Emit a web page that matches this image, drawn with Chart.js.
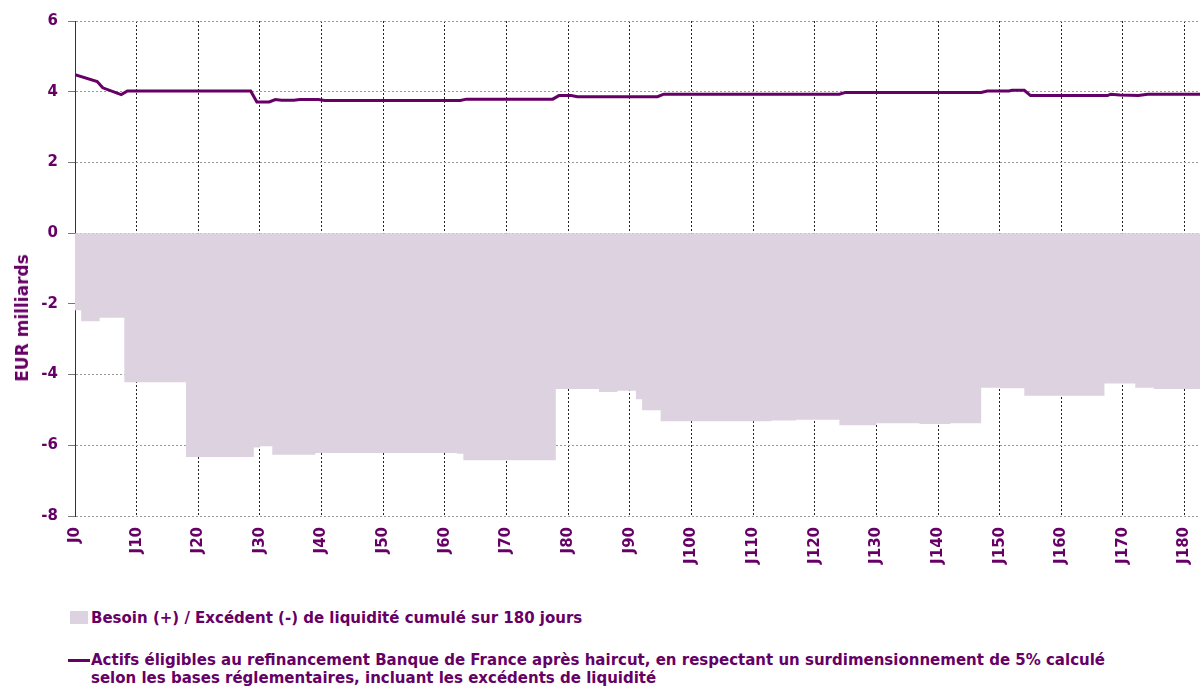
<!DOCTYPE html>
<html>
<head>
<meta charset="utf-8">
<script src="https://cdn.jsdelivr.net/npm/chart.js@4"></script>
<style>
  body { margin: 0; background: #fff; overflow: hidden; }
  #wrap { position: relative; width: 1200px; height: 590px; }
  .ytitle { position: absolute; left: 22px; top: 318px; transform: translate(-50%, -50%) rotate(-90deg);
            white-space: nowrap; font: bold 17px "DejaVu Sans", sans-serif; color: #660066; }
  .legend { position: absolute; left: 0; top: 0; font: bold 15px "DejaVu Sans", sans-serif; color: #660066; }
  .legend .item { position: absolute; white-space: nowrap; left: 91px; line-height: 18px; }
  .legend .box { position: absolute; left: 70px; width: 18px; height: 13px; background: #ddd2e0; }
  .legend .dash { position: absolute; left: 68px; width: 22px; height: 3px; background: #660066; }
</style>
</head>
<body>
<div id="wrap"><canvas id="chart" width="1200" height="590"></canvas></div>
<div class="ytitle">EUR milliards</div>
<div class="legend">
  <div class="box" style="top:611px"></div>
  <div class="item" style="top:609px">Besoin (+) / Excédent (-) de liquidité cumulé sur 180 jours</div>
  <div class="dash" style="top:659px"></div>
  <div class="item" style="top:651px">Actifs éligibles au refinancement Banque de France après haircut, en respectant un surdimensionnement de 5% calculé<br>selon les bases réglementaires, incluant les excédents de liquidité</div>
</div>
<script>
// cumulative liquidity need / surplus (step series), day where each level starts
const areaDays   = [0, 1, 4, 8, 18, 29, 30, 32, 39, 62, 63, 78, 85, 88, 91, 92, 95, 113, 117, 124, 130, 137, 142, 147, 150, 154, 167, 172, 175, 182.5];
const areaValues = [-2.18, -2.49, -2.39, -4.22, -6.33, -6.06, -6.03, -6.27, -6.22, -6.24, -6.42, -4.41, -4.49, -4.46, -4.70, -5.01, -5.32, -5.30, -5.28, -5.43, -5.38, -5.40, -5.38, -4.37, -4.39, -4.60, -4.25, -4.37, -4.41, -4.43];

// eligible assets after haircut
const lineDays   = [0, 3.6, 4.5, 7.5, 8.5, 28.5, 29.5, 31.5, 32.5, 33.5, 35.5, 36.5, 39.5, 40.5, 62.5, 63.5, 77.5, 78.5, 80.5, 81.5, 94.5, 95.5, 124, 125, 147, 148, 151.5, 152, 154, 155, 167.5, 168, 169.5, 172.5, 174, 182.5];
const lineValues = [4.48, 4.29, 4.11, 3.92, 4.02, 4.02, 3.71, 3.71, 3.78, 3.76, 3.76, 3.78, 3.78, 3.75, 3.75, 3.79, 3.79, 3.89, 3.89, 3.86, 3.86, 3.93, 3.93, 3.98, 3.98, 4.02, 4.02, 4.04, 4.04, 3.89, 3.89, 3.93, 3.91, 3.89, 3.93, 3.93];

const yMin = -8, yMax = 6, yStep = 2;
const xMax = 182.5, xStep = 10;

const purple = "#660066";
const tickFont = { family: "DejaVu Sans", weight: "bold", size: 15 };

new Chart(document.getElementById("chart"), {
  type: "line",
  data: {
    datasets: [
      {
        label: "Actifs éligibles",
        data: lineDays.map((d, i) => ({ x: d, y: lineValues[i] })),
        borderColor: purple,
        borderWidth: 3,
        pointRadius: 0,
        tension: 0,
        fill: false,
        order: 0
      },
      {
        label: "Besoin / Excédent",
        data: areaDays.map((d, i) => ({ x: d, y: areaValues[i] })),
        borderWidth: 0,
        borderColor: "rgba(0,0,0,0)",
        backgroundColor: "#ddd2e0",
        pointRadius: 0,
        stepped: true,
        fill: "origin",
        order: 1
      }
    ]
  },
  options: {
    responsive: false,
    animation: false,
    layout: { padding: { top: 21, right: 0, left: 0, bottom: 0 } },
    plugins: { legend: { display: false }, tooltip: { enabled: false } },
    scales: {
      x: {
        type: "linear",
        min: 0,
        max: xMax,
        afterFit: s => { s.height = 74; s.paddingRight = 0; s.paddingLeft = 0; },
        border: { display: false, dash: [2, 2] },
        grid: { color: "#222", drawTicks: false },
        ticks: {
          stepSize: xStep,
          includeBounds: false,
          autoSkip: false,
          minRotation: 90,
          maxRotation: 90,
          padding: 11,
          color: purple,
          font: tickFont,
          callback: v => "J" + v
        }
      },
      y: {
        min: yMin,
        max: yMax,
        afterFit: s => { s.width = 75; },
        border: { color: "#333", width: 1, dash: [2, 2] },
        grid: { color: "#999", tickColor: "#777", tickBorderDash: [], tickLength: 7 },
        ticks: {
          stepSize: yStep,
          padding: 10,
          color: purple,
          font: tickFont
        }
      }
    }
  }
});
</script>
</body>
</html>
